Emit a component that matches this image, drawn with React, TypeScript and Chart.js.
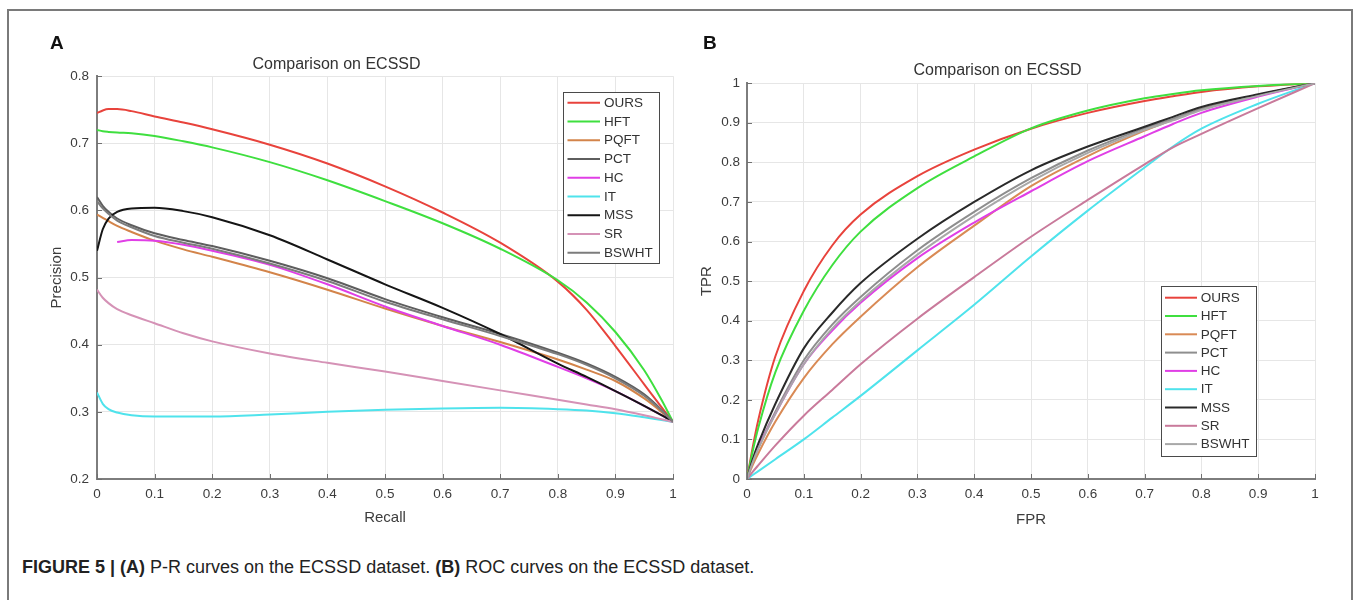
import React, { useEffect, useRef } from 'react';
import { Chart, registerables } from 'chart.js';

Chart.register(...registerables);

const FONT = "'Liberation Sans', Arial, Helvetica, sans-serif";

const methods = ['OURS', 'HFT', 'PQFT', 'PCT', 'HC', 'IT', 'MSS', 'SR', 'BSWHT'];

// ---------- Panel A : P-R curves ----------
const recall = [0, 0.01, 0.02, 0.035, 0.06, 0.1, 0.15, 0.2, 0.3, 0.4, 0.5, 0.6, 0.7, 0.8, 0.85, 0.9, 0.95, 0.98, 1];
const prOURS = [0.745, 0.749, 0.751, 0.751, 0.748, 0.740, 0.731, 0.721, 0.698, 0.670, 0.636, 0.597, 0.552, 0.494, 0.452, 0.398, 0.341, 0.307, 0.285];
const prHFT = [0.720, 0.718, 0.717, 0.716, 0.715, 0.711, 0.703, 0.694, 0.672, 0.645, 0.614, 0.581, 0.543, 0.496, 0.463, 0.419, 0.362, 0.318, 0.285];
const prPQFT = [0.594, 0.589, 0.584, 0.577, 0.568, 0.555, 0.542, 0.531, 0.508, 0.482, 0.454, 0.428, 0.404, 0.378, 0.363, 0.346, 0.320, 0.300, 0.285];
const prPCT = [0.620, 0.607, 0.598, 0.588, 0.578, 0.566, 0.556, 0.547, 0.525, 0.499, 0.468, 0.441, 0.416, 0.388, 0.372, 0.352, 0.326, 0.303, 0.285];
const prHC = [null, null, null, 0.553, 0.556, 0.555, 0.549, 0.540, 0.519, 0.490, 0.457, 0.428, 0.400, 0.367, 0.350, 0.331, 0.309, 0.295, 0.285];
const prIT = [0.329, 0.312, 0.304, 0.299, 0.295, 0.293, 0.293, 0.293, 0.296, 0.300, 0.303, 0.305, 0.306, 0.304, 0.302, 0.298, 0.292, 0.288, 0.285];
const prMSS = [0.540, 0.572, 0.588, 0.598, 0.603, 0.604, 0.599, 0.590, 0.563, 0.527, 0.490, 0.455, 0.416, 0.372, 0.352, 0.331, 0.309, 0.295, 0.285];
const prSR = [0.482, 0.470, 0.462, 0.453, 0.444, 0.432, 0.417, 0.405, 0.387, 0.373, 0.360, 0.346, 0.332, 0.318, 0.311, 0.304, 0.295, 0.289, 0.285];
const prBSWHT = [0.614, 0.603, 0.595, 0.585, 0.575, 0.562, 0.552, 0.543, 0.521, 0.495, 0.464, 0.438, 0.413, 0.386, 0.370, 0.350, 0.324, 0.302, 0.285];
const prSeries = [prOURS, prHFT, prPQFT, prPCT, prHC, prIT, prMSS, prSR, prBSWHT];
const prColors = ['#e8433c', '#3fdf3f', '#d3844a', '#5e5e5e', '#e03fe6', '#4fe3ec', '#151515', '#d592b6', '#7c7c7c'];
const prXTicks = [0, 0.1, 0.2, 0.3, 0.4, 0.5, 0.6, 0.7, 0.8, 0.9, 1];
const prXTickLabels = ['0', '0.1', '0.2', '0.3', '0.4', '0.5', '0.6', '0.7', '0.8', '0.9', '1'];
const prYTicks = [0.2, 0.3, 0.4, 0.5, 0.6, 0.7, 0.8];
const prYTickLabels = ['0.2', '0.3', '0.4', '0.5', '0.6', '0.7', '0.8'];

// ---------- Panel B : ROC curves ----------
const fpr = [0, 0.01, 0.02, 0.05, 0.1, 0.15, 0.2, 0.3, 0.4, 0.5, 0.6, 0.7, 0.75, 0.8, 0.9, 1];
const rocOURS = [0, 0.08, 0.15, 0.31, 0.475, 0.59, 0.668, 0.765, 0.832, 0.885, 0.925, 0.955, 0.967, 0.978, 0.992, 1];
const rocHFT = [0, 0.07, 0.13, 0.27, 0.425, 0.54, 0.625, 0.735, 0.815, 0.886, 0.931, 0.962, 0.973, 0.982, 0.993, 1];
const rocPQFT = [0, 0.035, 0.065, 0.145, 0.255, 0.34, 0.41, 0.535, 0.64, 0.74, 0.816, 0.88, 0.908, 0.935, 0.97, 1];
const rocPCT = [0, 0.045, 0.08, 0.17, 0.30, 0.39, 0.46, 0.578, 0.675, 0.76, 0.83, 0.886, 0.91, 0.935, 0.97, 1];
const rocHC = [0, 0.045, 0.08, 0.165, 0.29, 0.375, 0.445, 0.558, 0.648, 0.727, 0.803, 0.866, 0.897, 0.925, 0.966, 1];
const rocIT = [0, 0.01, 0.02, 0.05, 0.10, 0.155, 0.21, 0.325, 0.44, 0.562, 0.678, 0.787, 0.84, 0.885, 0.948, 1];
const rocMSS = [0, 0.05, 0.09, 0.19, 0.33, 0.42, 0.495, 0.607, 0.70, 0.78, 0.84, 0.89, 0.915, 0.94, 0.972, 1];
const rocSR = [0, 0.018, 0.035, 0.085, 0.16, 0.225, 0.29, 0.405, 0.51, 0.612, 0.705, 0.795, 0.838, 0.872, 0.937, 1];
const rocBSWHT = [0, 0.042, 0.077, 0.165, 0.29, 0.38, 0.45, 0.567, 0.665, 0.752, 0.824, 0.882, 0.906, 0.932, 0.968, 1];
const rocSeries = [rocOURS, rocHFT, rocPQFT, rocPCT, rocHC, rocIT, rocMSS, rocSR, rocBSWHT];
const rocColors = ['#e8433c', '#3fdf3f', '#d98a55', '#8e8e8e', '#e03fe6', '#4fe3ec', '#2a2a2a', '#c97a9b', '#a8a8a8'];
const rocTicks = [0, 0.1, 0.2, 0.3, 0.4, 0.5, 0.6, 0.7, 0.8, 0.9, 1];
const rocTickLabels = ['0', '0.1', '0.2', '0.3', '0.4', '0.5', '0.6', '0.7', '0.8', '0.9', '1'];

const TEXT = '#3c3c3c';

const innerTicks = {
  id: 'innerTicks',
  afterDatasetsDraw(chart: any) {
    const { ctx, chartArea, scales } = chart;
    ctx.save();
    ctx.strokeStyle = '#707070';
    ctx.lineWidth = 1;
    scales.x.ticks.forEach((t: any) => {
      const px = Math.round(scales.x.getPixelForValue(t.value)) + 0.5;
      ctx.beginPath();
      ctx.moveTo(px, chartArea.bottom);
      ctx.lineTo(px, chartArea.bottom - 5);
      ctx.stroke();
    });
    scales.y.ticks.forEach((t: any) => {
      const py = Math.round(scales.y.getPixelForValue(t.value)) + 0.5;
      ctx.beginPath();
      ctx.moveTo(chartArea.left, py);
      ctx.lineTo(chartArea.left + 5, py);
      ctx.stroke();
    });
    ctx.restore();
  },
};

const boxLegend = {
  id: 'boxLegend',
  afterDraw(chart: any, _args: any, opts: any) {
    const { ctx } = chart;
    ctx.save();
    ctx.fillStyle = '#ffffff';
    ctx.fillRect(opts.left, opts.top, opts.width, opts.height);
    ctx.strokeStyle = '#4a4a4a';
    ctx.lineWidth = 1;
    ctx.strokeRect(opts.left + 0.5, opts.top + 0.5, opts.width, opts.height);
    ctx.font = `13.5px ${FONT}`;
    ctx.textBaseline = 'middle';
    ctx.textAlign = 'left';
    chart.data.datasets.forEach((ds: any, i: number) => {
      const y = opts.rowStart + i * opts.rowGap;
      ctx.strokeStyle = ds.borderColor;
      ctx.lineWidth = 2;
      ctx.beginPath();
      ctx.moveTo(opts.lineX0, y);
      ctx.lineTo(opts.lineX1, y);
      ctx.stroke();
      ctx.fillStyle = '#333333';
      ctx.fillText(ds.label, opts.textX, y + 0.5);
    });
    ctx.restore();
  },
};

function makeAxis(
  ticks: number[],
  labels: string[],
  min: number,
  max: number,
  title: string,
  titlePadding: any,
  size: number,
  horizontal: boolean,
  tickPadding: number
) {
  return {
    type: 'linear',
    min,
    max,
    afterBuildTicks: (axis: any) => {
      axis.ticks = ticks.map((v) => ({ value: v }));
    },
    afterFit: (axis: any) => {
      if (horizontal) axis.height = size;
      else axis.width = size;
    },
    ticks: {
      autoSkip: false,
      maxRotation: 0,
      padding: tickPadding,
      color: TEXT,
      font: { family: FONT, size: 13.5 },
      callback: (_v: any, i: number) => labels[i],
    },
    grid: { color: '#e6e6e6', lineWidth: 1, drawTicks: false },
    border: { display: true, color: '#7d7d7d', width: 2 },
    title: {
      display: true,
      text: title,
      color: TEXT,
      font: { family: FONT, size: 15 },
      padding: titlePadding,
    },
  };
}

function buildConfig(
  xs: number[],
  series: (number | null)[][],
  colors: string[],
  axes: any,
  layoutPadding: any,
  titlePadding: any,
  legend: any
) {
  return {
    type: 'line',
    data: {
      datasets: methods.map((m, i) => ({
        label: m,
        data: xs.map((x, j) => ({ x, y: series[i][j] })),
        borderColor: colors[i],
        backgroundColor: colors[i],
        borderWidth: 2,
        pointRadius: 0,
        cubicInterpolationMode: 'monotone',
        fill: false,
        spanGaps: false,
        order: -i,
      })),
    },
    options: {
      responsive: false,
      animation: false,
      events: [],
      layout: { padding: layoutPadding },
      plugins: {
        legend: { display: false },
        tooltip: { enabled: false },
        title: {
          display: true,
          text: 'Comparison on ECSSD',
          color: '#333333',
          font: { family: FONT, size: 16, weight: 'normal' },
          padding: titlePadding,
        },
        boxLegend: legend,
      },
      scales: axes,
    },
    plugins: [innerTicks, boxLegend],
  };
}

export default function App() {
  const refA = useRef<HTMLCanvasElement>(null);
  const refB = useRef<HTMLCanvasElement>(null);

  useEffect(() => {
    const chartA = new Chart(
      refA.current as any,
      buildConfig(
        recall,
        prSeries,
        prColors,
        {
          x: makeAxis(prXTicks, prXTickLabels, 0, 1, 'Recall', { top: 0, bottom: 18 }, 66, true, 7),
          y: makeAxis(prYTicks, prYTickLabels, 0.2, 0.8, 'Precision', { top: 48, bottom: 0 }, 97, false, 8),
        },
        { left: 0, right: 17, top: 0, bottom: 0 },
        { top: 55, bottom: 2 },
        { left: 563, top: 92, width: 96, height: 171, rowStart: 102.7, rowGap: 18.75, lineX0: 567.5, lineX1: 600, textX: 604 }
      ) as any
    );
    const chartB = new Chart(
      refB.current as any,
      buildConfig(
        fpr,
        rocSeries,
        rocColors,
        {
          x: makeAxis(rocTicks, rocTickLabels, 0, 1, 'FPR', { top: 0, bottom: 16 }, 66, true, 7),
          y: makeAxis(rocTicks, rocTickLabels, 0, 1, 'TPR', { top: 18, bottom: 0 }, 67, false, 7),
        },
        { left: 0, right: 43, top: 0, bottom: 0 },
        { top: 61, bottom: 3 },
        { left: 481, top: 286, width: 95, height: 170, rowStart: 297.7, rowGap: 18.3, lineX0: 485, lineX1: 517, textX: 520.7 }
      ) as any
    );
    return () => {
      chartA.destroy();
      chartB.destroy();
    };
  }, []);

  return (
    <div
      style={{
        position: 'absolute',
        left: 0,
        top: 0,
        width: 1358,
        height: 600,
        background: '#ffffff',
        overflow: 'hidden',
        fontFamily: FONT,
      }}
    >
      <div
        style={{
          position: 'absolute',
          left: 7,
          top: 9,
          width: 1346,
          height: 700,
          boxSizing: 'border-box',
          border: '2px solid #7a7a7a',
        }}
      />
      <canvas
        ref={refA}
        width={690}
        height={545}
        style={{ position: 'absolute', left: 0, top: 0, width: 690, height: 545, display: 'block' }}
      />
      <canvas
        ref={refB}
        width={678}
        height={545}
        style={{ position: 'absolute', left: 680, top: 0, width: 678, height: 545, display: 'block' }}
      />
      <div
        style={{
          position: 'absolute',
          left: 50,
          top: 33,
          fontSize: 19,
          lineHeight: '20px',
          fontWeight: 'bold',
          color: '#111',
        }}
      >
        A
      </div>
      <div
        style={{
          position: 'absolute',
          left: 703,
          top: 33,
          fontSize: 19,
          lineHeight: '20px',
          fontWeight: 'bold',
          color: '#111',
        }}
      >
        B
      </div>
      <div
        style={{
          position: 'absolute',
          left: 22,
          top: 557,
          fontSize: 18,
          lineHeight: '20px',
          color: '#222',
          whiteSpace: 'nowrap',
        }}
      >
        <b>FIGURE 5 | (A)</b> P-R curves on the ECSSD dataset. <b>(B)</b> ROC curves on the ECSSD dataset.
      </div>
    </div>
  );
}
